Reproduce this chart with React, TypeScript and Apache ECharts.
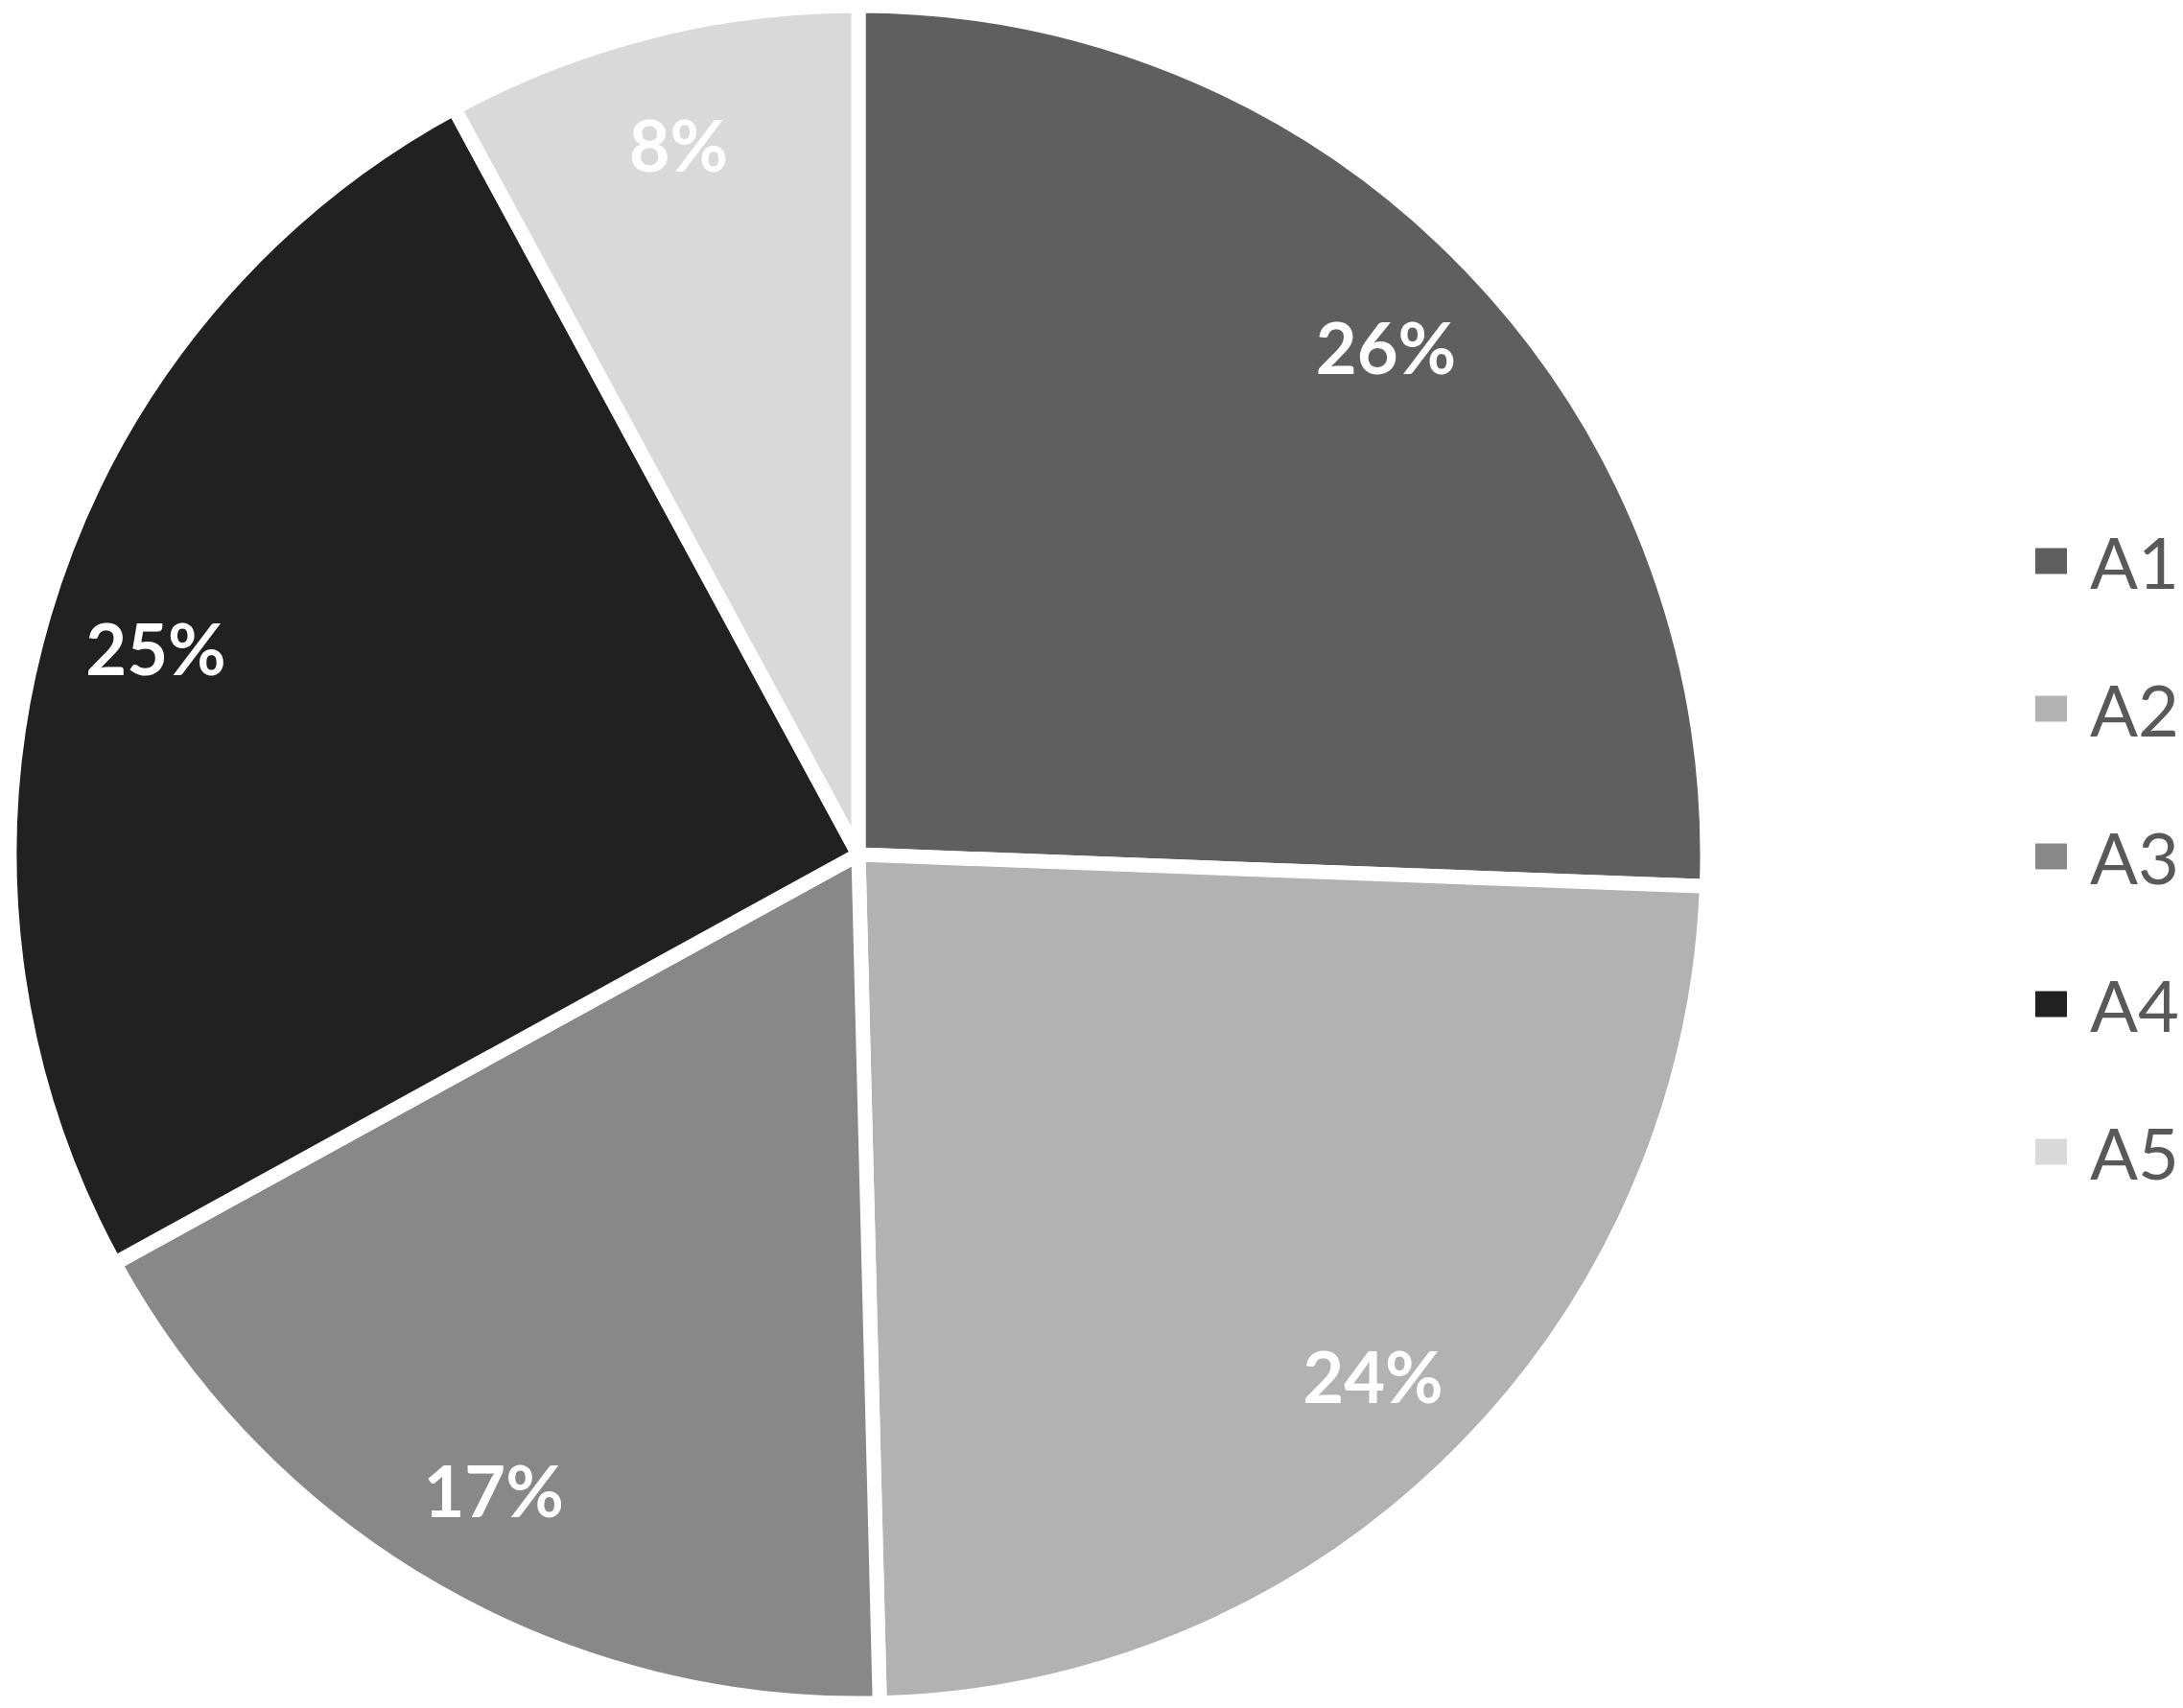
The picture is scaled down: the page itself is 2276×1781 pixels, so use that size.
import React, { useEffect, useRef } from "react";
import * as echarts from "echarts";

const categories = ["A1", "A2", "A3", "A4", "A5"];
const values = [25.6, 24.0, 17.4, 25.1, 7.9];
const colors = ["#5f5f5f", "#b2b2b2", "#888888", "#212121", "#d9d9d9"];

export default function App() {
  const ref = useRef<HTMLDivElement>(null);
  useEffect(() => {
    if (!ref.current) return;
    const chart = echarts.init(ref.current, null, { renderer: "svg" });
    const data = categories.map((name, i) => ({
      name,
      value: values[i],
      itemStyle: { color: colors[i] },
    }));
    chart.setOption({
      animation: false,
      backgroundColor: "#ffffff",
      legend: {
        orient: "vertical",
        left: 2115,
        top: 540,
        data: categories,
        icon: "rect",
        itemWidth: 35,
        itemHeight: 29,
        itemGap: 74,
        selectedMode: false,
        textStyle: {
          fontFamily: "Lato",
          fontSize: 74,
          lineHeight: 80,
          color: "#595959",
          padding: [0, 0, 0, 18],
        },
      },
      series: [
        {
          type: "pie",
          center: [895, 891],
          radius: [0, 885],
          startAngle: 90,
          clockwise: true,
          avoidLabelOverlap: false,
          silent: true,
          data,
          itemStyle: { borderColor: "#ffffff", borderWidth: 15 },
          label: { show: false },
          labelLine: { show: false },
          emphasis: { disabled: true },
        },
        {
          type: "pie",
          center: [895, 891],
          radius: [636, 885],
          startAngle: 90,
          clockwise: true,
          avoidLabelOverlap: false,
          silent: true,
          data: categories.map((name, i) => ({
            name,
            value: values[i],
            itemStyle: { color: "transparent" },
          })),
          itemStyle: { borderWidth: 0 },
          label: {
            show: true,
            position: "inside",
            formatter: (p: any) => Math.round(p.percent) + "%",
            color: "#ffffff",
            fontFamily: "Lato",
            fontWeight: "bold",
            fontSize: 74,
          },
          labelLine: { show: false },
          emphasis: { disabled: true },
        },
      ],
    });
    return () => chart.dispose();
  }, []);
  return (
    <div
      ref={ref}
      style={{ position: "absolute", left: 0, top: 0, width: 2276, height: 1781 }}
    />
  );
}
